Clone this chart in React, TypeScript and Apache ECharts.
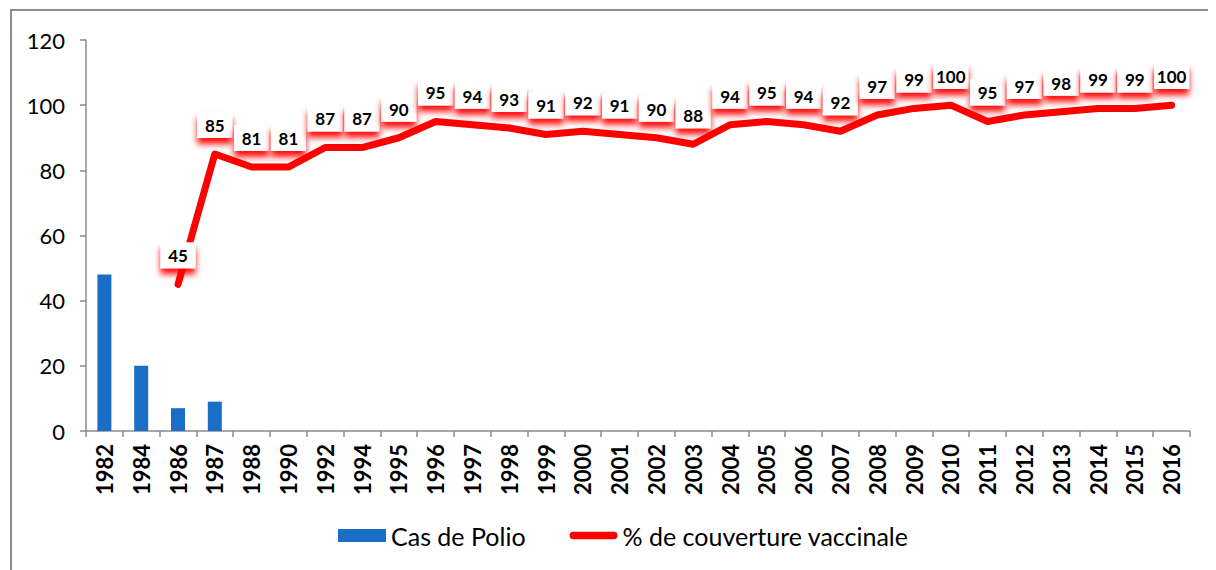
import React, { useEffect, useRef } from "react";
import * as echarts from "echarts";

const years = ["1982","1984","1986","1987","1988","1990","1992","1994","1995","1996","1997","1998","1999","2000","2001","2002","2003","2004","2005","2006","2007","2008","2009","2010","2011","2012","2013","2014","2015","2016"];
const polioCases: (number | null)[] = [48, 20, 7, 9, null, null, null, null, null, null, null, null, null, null, null, null, null, null, null, null, null, null, null, null, null, null, null, null, null, null];
const coverage: (number | null)[] = [null, null, 45, 85, 81, 81, 87, 87, 90, 95, 94, 93, 91, 92, 91, 90, 88, 94, 95, 94, 92, 97, 99, 100, 95, 97, 98, 99, 99, 100];
const yTicks = { min: 0, max: 120, interval: 20 };

const FONT = "Lato, 'Noto Sans', sans-serif";
const AXIS_GRAY = "#8a8a8a";
const LINE_ICON = "path://M4,0 L48,0 A4,4 0 0 1 48,8 L4,8 A4,4 0 0 1 4,0 Z";

export default function App() {
  const ref = useRef<HTMLDivElement>(null);
  useEffect(() => {
    if (!ref.current) return;
    const chart = echarts.init(ref.current, undefined, { renderer: "svg" });
    chart.setOption({
      animation: false,
      backgroundColor: "#ffffff",
      textStyle: { fontFamily: FONT },
      graphic: [
        {
          type: "rect",
          shape: { x: 3, y: 2, width: 1400, height: 800 },
          style: { fill: "none", stroke: "#8c8c8c", lineWidth: 2 },
          silent: true,
        },
      ],
      grid: { left: 78, right: 26, top: 32, bottom: 139 },
      legend: {
        bottom: 17,
        left: 325,
        itemGap: 44,
        itemWidth: 48,
        itemHeight: 13,
        textStyle: { fontFamily: FONT, fontSize: 25, color: "#000" },
        data: [
          { name: "Cas de Polio", icon: "rect" },
          { name: "% de couverture vaccinale", icon: LINE_ICON },
        ],
      },
      xAxis: {
        type: "category",
        data: years,
        boundaryGap: true,
        axisLine: { lineStyle: { color: AXIS_GRAY, width: 1.5 } },
        axisTick: { show: true, alignWithLabel: false, length: 6, lineStyle: { color: AXIS_GRAY, width: 1.5 } },
        axisLabel: {
          rotate: 90,
          interval: 0,
          margin: 13,
          color: "#000",
          fontWeight: "bold",
          fontSize: 22,
          fontFamily: FONT,
        },
        splitLine: { show: false },
      },
      yAxis: {
        type: "value",
        min: yTicks.min,
        max: yTicks.max,
        interval: yTicks.interval,
        axisLine: { show: true, lineStyle: { color: AXIS_GRAY, width: 1.5 } },
        axisTick: { show: true, length: 6, lineStyle: { color: AXIS_GRAY, width: 1.5 } },
        axisLabel: { color: "#000", fontSize: 22, margin: 21, fontFamily: FONT },
        splitLine: { show: false },
      },
      series: [
        {
          name: "Cas de Polio",
          type: "bar",
          data: polioCases,
          barWidth: 14,
          itemStyle: { color: "#1a6ec6" },
        },
        {
          name: "% de couverture vaccinale",
          type: "line",
          data: coverage,
          symbol: "circle",
          symbolSize: 0.1,
          showSymbol: true,
          connectNulls: false,
          lineStyle: { color: "#ff0000", width: 7, cap: "round", join: "round" },
          itemStyle: { color: "#ff0000" },
          label: {
            show: true,
            position: "top",
            distance: 16,
            color: "#000",
            fontWeight: "bold",
            fontSize: 17,
            fontFamily: FONT,
            backgroundColor: "#ffffff",
            padding: [5, 7, 4, 7],
            width: 21,
            align: "center",
            shadowColor: "rgba(255,0,0,0.95)",
            shadowBlur: 6,
            shadowOffsetY: 6,
          },
        },
      ],
    });
    return () => chart.dispose();
  }, []);
  return <div ref={ref} style={{ width: 1208, height: 562 }} />;
}
